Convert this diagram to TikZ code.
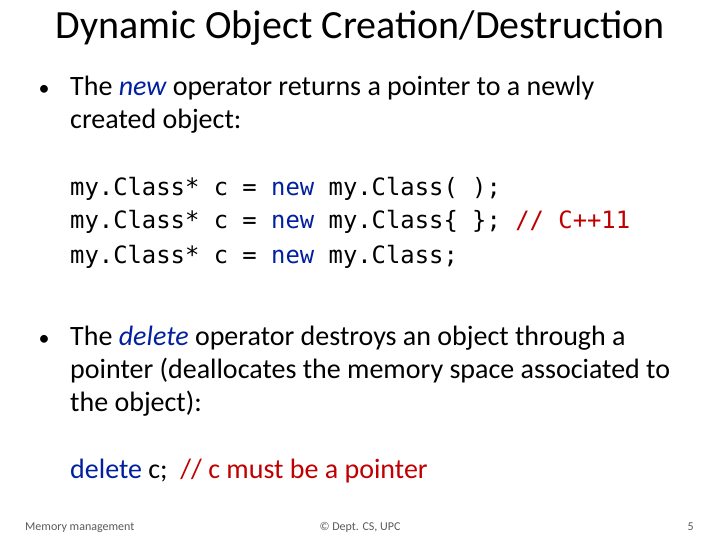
\documentclass[tikz,border=0pt]{standalone}
\usepackage{fontspec}
\setmainfont{Carlito}
\setmonofont{DejaVu Sans Mono}
\definecolor{kw}{RGB}{0,32,160}
\definecolor{cm}{RGB}{192,0,0}
\definecolor{ft}{RGB}{90,90,90}
\begin{document}
\begin{tikzpicture}[x=1pt,y=-1pt,
  txt/.style={anchor=base west,inner sep=0pt,font=\fontsize{28}{32}\selectfont},
  code/.style={anchor=base west,inner sep=0pt,font=\ttfamily\fontsize{23.85}{28}\selectfont},
  foot/.style={anchor=base,inner sep=0pt,text=ft,font=\fontsize{12}{14}\selectfont}]
\useasboundingbox[fill=white] (0,0) rectangle (720,540);
\node[anchor=base,inner sep=0pt,font=\fontsize{40}{46}\selectfont] (title) at (360,39) {Dynamic Object Creation/Destruction};
\node[anchor=base,inner sep=0pt,font=\fontsize{22}{24}\selectfont] (b1) at (44,96) {•};
\node[txt] (l1) at (70,96) {The \textcolor{kw}{\itshape new} operator returns a pointer to a newly};
\node[txt] (l2) at (70,129) {created object:};
\node[code] (c1) at (70,196) {my.Class* c = \textcolor{kw}{new} my.Class( );};
\node[code] (c2) at (70,229) {my.Class* c = \textcolor{kw}{new} my.Class\{ \}; \textcolor{cm}{// C++11}};
\node[code] (c3) at (70,263) {my.Class* c = \textcolor{kw}{new} my.Class;};
\node[anchor=base,inner sep=0pt,font=\fontsize{22}{24}\selectfont] (b2) at (44,345) {•};
\node[txt] (m1) at (70,345) {The \textcolor{kw}{\itshape delete} operator destroys an object through a};
\node[txt] (m2) at (70,378) {pointer (deallocates the memory space associated to};
\node[txt] (m3) at (70,411) {the object):};
\node[txt] (d) at (70,478) {\textcolor{kw}{delete} c;\ \ \textcolor{cm}{// c must be a pointer}};
\node[foot,anchor=base west] (f1) at (25,530) {Memory management};
\node[foot] (f2) at (360,530) {© Dept. CS, UPC};
\node[foot,anchor=base east] (f3) at (694,530) {5};
\end{tikzpicture}
\end{document}
